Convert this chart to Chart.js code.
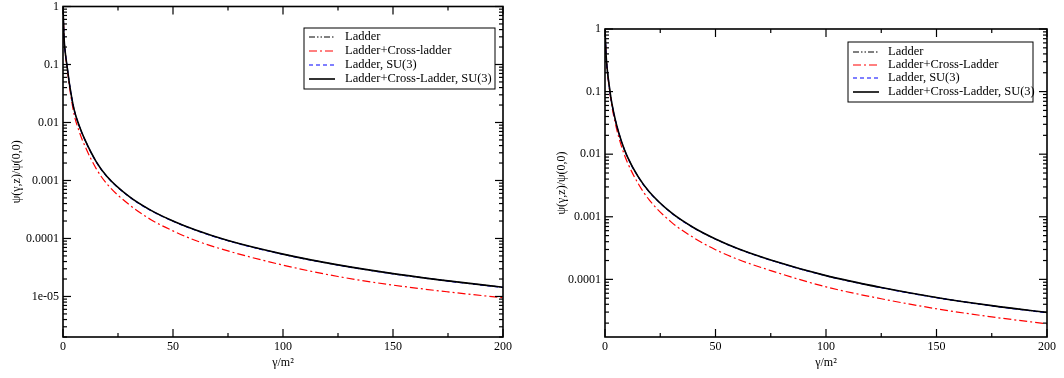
<!DOCTYPE html>
<html>
<head>
<meta charset="utf-8">
<script src="https://cdn.jsdelivr.net/npm/chart.js@4"></script>
<style>
body{margin:0;background:#fff;}
.panel{position:absolute;top:0;width:532px;height:378px;}
</style>
</head>
<body>
<div class="panel" style="left:0"><canvas id="left" width="532" height="378"></canvas></div>
<div class="panel" style="left:532px"><canvas id="right" width="532" height="378"></canvas></div>
<script>
// gamma/m^2 sample points (shared by both panels)
const gamma = [0, 0.5, 1, 2, 3, 5, 7.5, 10, 15, 20, 30, 40, 50, 60, 75, 100, 125, 150, 175, 200];

// left panel
const leftLadder      = [1, 0.28, 0.166, 0.085, 0.0447, 0.017, 0.0085, 0.005, 0.00214, 0.00117, 0.000531, 0.000305, 0.0002, 0.000141, 0.000092, 0.0000537, 0.000035, 0.0000248, 0.0000186, 0.0000144];
const leftCross       = [1, 0.275, 0.158, 0.0794, 0.0398, 0.0141, 0.00676, 0.00389, 0.00162, 0.00087, 0.000385, 0.000211, 0.000135, 0.000093, 0.000061, 0.0000347, 0.0000221, 0.0000157, 0.000012, 0.0000095];
const leftLadderSU3   = [1, 0.28, 0.165, 0.0845, 0.0444, 0.0169, 0.00845, 0.00497, 0.00212, 0.00116, 0.000526, 0.000302, 0.000198, 0.00014, 0.0000912, 0.0000532, 0.0000347, 0.0000246, 0.0000184, 0.0000143];
const leftCrossSU3    = [1, 0.28, 0.166, 0.085, 0.0447, 0.017, 0.0085, 0.005, 0.00214, 0.00117, 0.000531, 0.000305, 0.0002, 0.000141, 0.000092, 0.0000537, 0.000035, 0.0000248, 0.0000186, 0.0000144];

// right panel
const rightLadder     = [1, 0.38, 0.229, 0.1175, 0.0676, 0.0316, 0.01585, 0.00933, 0.00437, 0.00251, 0.00116, 0.000673, 0.000441, 0.000311, 0.000204, 0.0001148, 0.0000741, 0.0000513, 0.000038, 0.0000295];
const rightCross      = [1, 0.372, 0.219, 0.1096, 0.0617, 0.0275, 0.0132, 0.00759, 0.00339, 0.00186, 0.000822, 0.000466, 0.000298, 0.00021, 0.000138, 0.0000759, 0.000049, 0.0000339, 0.0000251, 0.0000195];
const rightLadderSU3  = [1, 0.38, 0.228, 0.117, 0.0672, 0.0314, 0.01575, 0.00927, 0.00434, 0.00249, 0.00115, 0.000668, 0.000438, 0.000309, 0.000202, 0.000114, 0.0000736, 0.0000509, 0.0000377, 0.0000293];
const rightCrossSU3   = [1, 0.38, 0.229, 0.1175, 0.0676, 0.0316, 0.01585, 0.00933, 0.00437, 0.00251, 0.00116, 0.000673, 0.000441, 0.000311, 0.000204, 0.0001148, 0.0000741, 0.0000513, 0.000038, 0.0000295];

// axis ticks
const xTicks = [0, 50, 100, 150, 200];
const xTickLabels = ['0', '50', '100', '150', '200'];
const yTicksLeft = [1e-5, 1e-4, 1e-3, 1e-2, 1e-1, 1];
const yTickLabelsLeft = ['1e-05', '0.0001', '0.001', '0.01', '0.1', '1'];
const yTicksRight = [1e-4, 1e-3, 1e-2, 1e-1, 1];
const yTickLabelsRight = ['0.0001', '0.001', '0.01', '0.1', '1'];

const seriesLeft = ['Ladder', 'Ladder+Cross-ladder', 'Ladder, SU(3)', 'Ladder+Cross-Ladder, SU(3)'];
const seriesRight = ['Ladder', 'Ladder+Cross-Ladder', 'Ladder, SU(3)', 'Ladder+Cross-Ladder, SU(3)'];

const serif = 'Liberation Serif';

function pts(ys) {
  return gamma.map((g, i) => ({x: g, y: ys[i]}));
}

function makeSets(names, a, b, c, d) {
  const base = {pointRadius: 0, fill: false, cubicInterpolationMode: 'monotone'};
  return [
    Object.assign({label: names[0], data: pts(a), borderColor: '#000', borderWidth: 1, borderDash: [6, 2, 1.5, 2, 1.5, 2], order: 3}, base),
    Object.assign({label: names[1], data: pts(b), borderColor: '#ff0000', borderWidth: 1.2, borderDash: [8, 3, 2, 3], order: 2}, base),
    Object.assign({label: names[2], data: pts(c), borderColor: '#0000ff', borderWidth: 1.2, borderDash: [4, 3], order: 1}, base),
    Object.assign({label: names[3], data: pts(d), borderColor: '#000', borderWidth: 1.6, borderDash: [], order: 0}, base)
  ];
}

// frame with inward ticks + boxed legend, grace-style
const graceFrame = {
  id: 'graceFrame',
  afterDatasetsDraw(chart, args, opts) {
    const {ctx, chartArea: a} = chart;
    const x = chart.scales.x, y = chart.scales.y;
    const seg = (x1, y1, x2, y2) => { ctx.beginPath(); ctx.moveTo(x1, y1); ctx.lineTo(x2, y2); ctx.stroke(); };
    ctx.save();
    ctx.strokeStyle = '#000';
    ctx.setLineDash([]);
    ctx.lineWidth = 1.2;
    for (let v = x.min; v <= x.max; v += 25) {
      const px = x.getPixelForValue(v);
      const len = v % 50 === 0 ? 8 : 4;
      seg(px, a.bottom, px, a.bottom - len);
      seg(px, a.top, px, a.top + len);
    }
    const e0 = Math.floor(Math.log10(y.min)), e1 = Math.ceil(Math.log10(y.max));
    for (let e = e0; e <= e1; e++) {
      for (let k = 1; k <= 9; k++) {
        const v = k * Math.pow(10, e);
        if (v < y.min * 0.999 || v > y.max * 1.001) continue;
        const py = y.getPixelForValue(v);
        const len = k === 1 ? 8 : 4;
        seg(a.left, py, a.left + len, py);
        seg(a.right, py, a.right - len, py);
      }
    }
    ctx.lineWidth = 1.6;
    ctx.strokeRect(a.left, a.top, a.right - a.left, a.bottom - a.top);

    // legend
    const L = opts.legend;
    ctx.lineWidth = 1;
    ctx.strokeRect(L.x, L.y, L.w, L.h);
    ctx.font = L.size + 'px "' + serif + '"';
    ctx.textBaseline = 'middle';
    ctx.fillStyle = '#000';
    chart.data.datasets.forEach((ds, i) => {
      const ry = L.rows[i];
      ctx.strokeStyle = ds.borderColor;
      ctx.lineWidth = ds.borderWidth;
      ctx.setLineDash(ds.borderDash);
      seg(L.lx1, ry, L.lx2, ry);
      ctx.fillText(ds.label, L.tx, ry);
    });
    ctx.restore();
  }
};

function makeChart(id, sets, yMin, yTicks, yLabels, yAxisWidth, titlePad, padRight, padTop, legend) {
  const font = {family: serif, size: 12};
  return new Chart(document.getElementById(id), {
    type: 'line',
    data: {datasets: sets},
    plugins: [graceFrame],
    options: {
      responsive: false,
      animation: false,
      layout: {padding: {left: 0, right: padRight, top: padTop, bottom: 0}},
      plugins: {legend: {display: false}, tooltip: {enabled: false}, graceFrame: {legend: legend}},
      scales: {
        x: {
          type: 'linear', min: 0, max: 200,
          afterBuildTicks: s => { s.ticks = xTicks.map(v => ({value: v})); },
          afterFit: s => { s.height = 41; },
          ticks: {font: font, color: '#000', padding: 3, maxRotation: 0, autoSkip: false,
                  callback: (v, i) => xTickLabels[i]},
          grid: {display: false, drawTicks: false, tickLength: 0}, border: {display: false},
          title: {display: true, text: 'γ/m²', font: font, color: '#000', padding: {top: 0, bottom: 8}}
        },
        y: {
          type: 'logarithmic', min: yMin, max: 1,
          afterBuildTicks: s => { s.ticks = yTicks.map(v => ({value: v})); },
          afterFit: s => { s.width = yAxisWidth; s.paddingTop = 0; s.paddingBottom = 0; },
          ticks: {font: font, color: '#000', padding: 4, autoSkip: false,
                  callback: (v, i) => yLabels[i]},
          grid: {display: false, drawTicks: false, tickLength: 0}, border: {display: false},
          title: {display: true, text: 'ψ(γ,z)/ψ(0,0)', font: font, color: '#000', padding: {top: titlePad, bottom: 0}}
        }
      }
    }
  });
}

makeChart('left', makeSets(seriesLeft, leftLadder, leftCross, leftLadderSU3, leftCrossSU3),
  2e-6, yTicksLeft, yTickLabelsLeft, 63, 10, 29, 6.5,
  {x: 304, y: 28, w: 191, h: 61, rows: [37, 51, 65, 79], lx1: 309, lx2: 335, tx: 345, size: 12.5});

makeChart('right', makeSets(seriesRight, rightLadder, rightCross, rightLadderSU3, rightCrossSU3),
  1.2e-5, yTicksRight, yTickLabelsRight, 73, 23, 17, 29,
  {x: 316, y: 42, w: 185, h: 60, rows: [52, 65, 78, 92], lx1: 321, lx2: 347, tx: 356, size: 12.5});
</script>
</body>
</html>
